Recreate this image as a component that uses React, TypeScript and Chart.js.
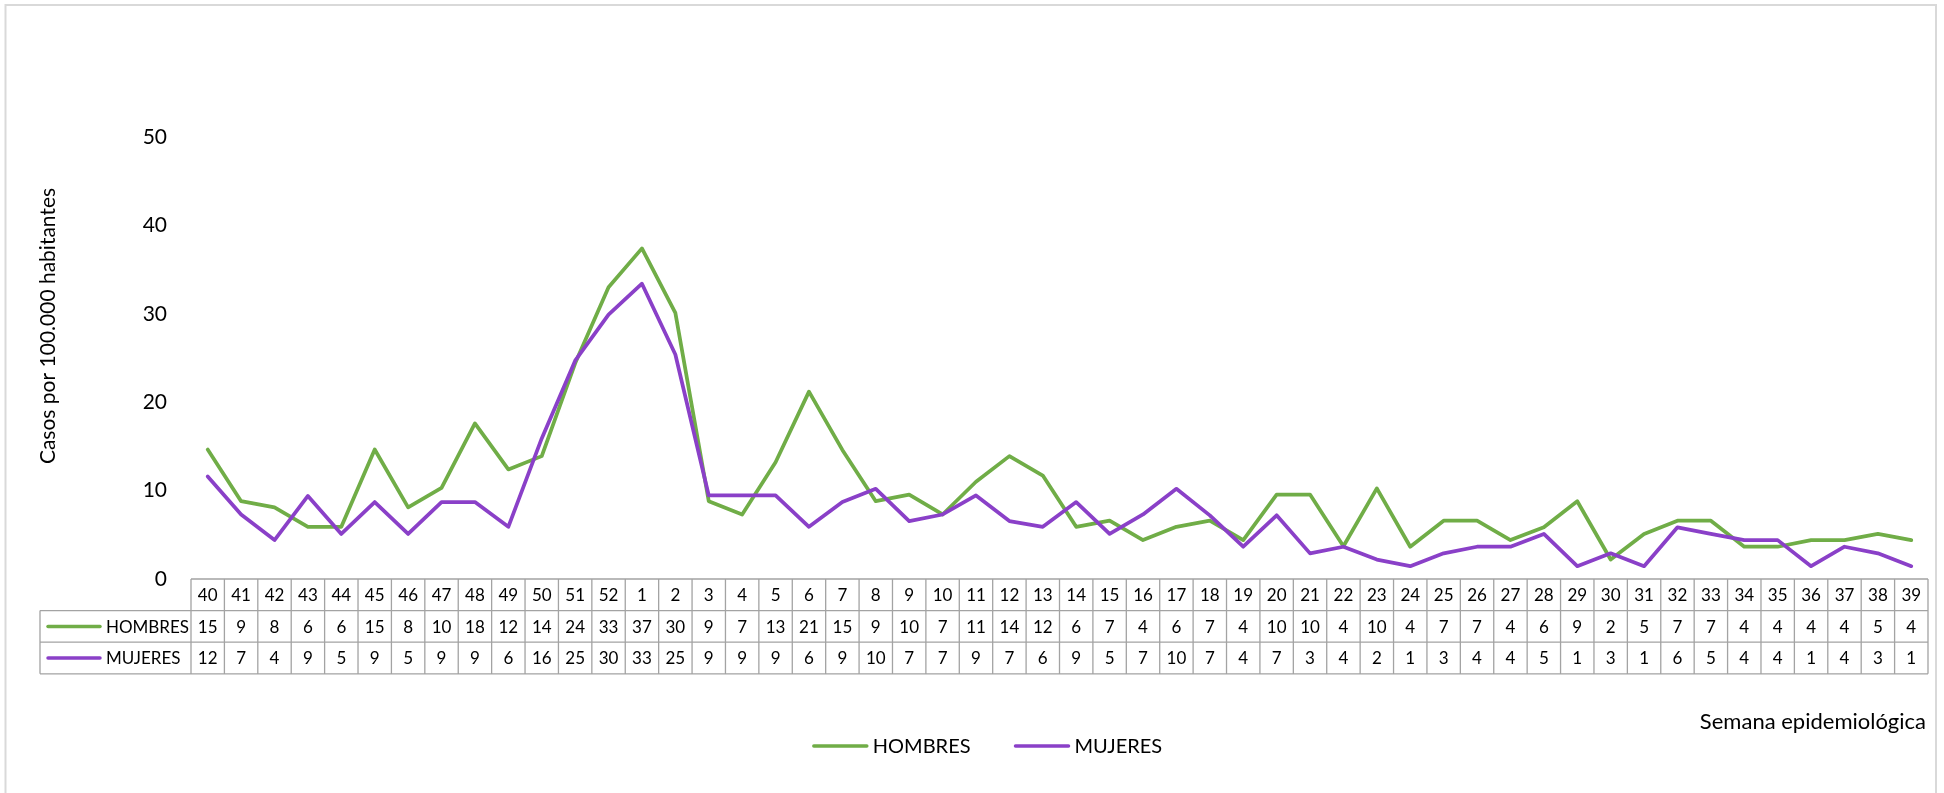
import React, { useEffect, useRef } from "react";
import { Chart, registerables } from "chart.js";

Chart.register(...registerables);

const semanas = [
  "40", "41", "42", "43", "44", "45", "46", "47", "48", "49", "50", "51", "52",
  "1", "2", "3", "4", "5", "6", "7", "8", "9", "10", "11", "12", "13", "14",
  "15", "16", "17", "18", "19", "20", "21", "22", "23", "24", "25", "26", "27",
  "28", "29", "30", "31", "32", "33", "34", "35", "36", "37", "38", "39",
];

const hombres = [
  14.65, 8.8, 8.1, 5.9, 5.9, 14.65, 8.1, 10.3, 17.6, 12.4, 13.9, 24.4, 33.0,
  37.4, 30.1, 8.8, 7.3, 13.2, 21.2, 14.6, 8.8, 9.55, 7.3, 11.0, 13.9, 11.7, 5.9,
  6.6, 4.4, 5.9, 6.6, 4.4, 9.55, 9.55, 3.7, 10.25, 3.65, 6.6, 6.6, 4.4,
  5.85, 8.8, 2.2, 5.1, 6.6, 6.6, 3.65, 3.65, 4.4, 4.4, 5.1, 4.4,
];

const mujeres = [
  11.6, 7.3, 4.4, 9.4, 5.1, 8.7, 5.1, 8.7, 8.7, 5.9, 15.9, 24.7, 29.9,
  33.4, 25.4, 9.45, 9.45, 9.45, 5.9, 8.7, 10.2, 6.55, 7.3, 9.45, 6.55, 5.9, 8.7,
  5.1, 7.3, 10.2, 7.2, 3.65, 7.2, 2.9, 3.65, 2.2, 1.45, 2.9, 3.65, 3.65,
  5.1, 1.45, 2.9, 1.45, 5.85, 5.1, 4.4, 4.4, 1.45, 3.65, 2.9, 1.45,
];

const yMin = 0;
const yMax = 50;
const yStep = 10;

const tituloY = "Casos por 100.000 habitantes";
const tituloX = "Semana epidemiológica";

const GREEN = "#70ad47";
const PURPLE = "#8a40c8";
const FONT = "Lato, 'Open Sans', sans-serif";
const TEXT = "#000000";
const GRID_GRAY = "#a3a3a3";
const LINE_W = 3.75;

const excelPlugin = {
  id: "excelDataTable",
  beforeDraw(chart: any) {
    const ctx = chart.ctx;
    ctx.save();
    ctx.fillStyle = "#ffffff";
    ctx.fillRect(0, 0, chart.width, chart.height);
    ctx.strokeStyle = "#d9d9d9";
    ctx.lineWidth = 2;
    ctx.strokeRect(5.5, 5, 1930.5, chart.height + 40);
    ctx.restore();
  },
  afterDraw(chart: any) {
    const { ctx, chartArea, scales } = chart;
    const xs = scales.x;
    const labels: string[] = chart.data.labels;
    const n = labels.length;
    const colW = xs.getPixelForValue(1) - xs.getPixelForValue(0);
    const left = xs.getPixelForValue(0) - colW / 2;
    const right = xs.getPixelForValue(n - 1) + colW / 2;
    const top = chartArea.bottom;
    const rowH = 31.6;
    const labelLeft = 40;
    const datasets = chart.data.datasets;

    ctx.save();
    // Axis titles
    ctx.fillStyle = TEXT;
    ctx.font = `21px ${FONT}`;
    ctx.textAlign = "center";
    ctx.textBaseline = "middle";
    ctx.save();
    ctx.translate(48, 326);
    ctx.rotate(-Math.PI / 2);
    ctx.fillText(tituloY, 0, 0);
    ctx.restore();

    ctx.font = `22px ${FONT}`;
    ctx.textAlign = "right";
    ctx.fillText(tituloX, 1926, 722);

    // Table grid
    ctx.strokeStyle = GRID_GRAY;
    ctx.lineWidth = 1.3;
    ctx.beginPath();
    ctx.moveTo(left, top);
    ctx.lineTo(right, top);
    for (let r = 1; r <= datasets.length + 1; r++) {
      ctx.moveTo(labelLeft, top + r * rowH);
      ctx.lineTo(right, top + r * rowH);
    }
    for (let i = 0; i <= n; i++) {
      const xx = left + i * colW;
      ctx.moveTo(xx, top);
      ctx.lineTo(xx, top + (datasets.length + 1) * rowH);
    }
    ctx.moveTo(labelLeft, top + rowH);
    ctx.lineTo(labelLeft, top + (datasets.length + 1) * rowH);
    ctx.stroke();

    // Table texts
    ctx.fillStyle = TEXT;
    ctx.font = `17px ${FONT}`;
    ctx.textAlign = "center";
    ctx.textBaseline = "middle";
    for (let i = 0; i < n; i++) {
      const cx = xs.getPixelForValue(i);
      ctx.fillText(labels[i], cx, top + rowH / 2 + 1);
      datasets.forEach((ds: any, d: number) => {
        ctx.fillText(String(Math.round(ds.data[i])), cx, top + (d + 1) * rowH + rowH / 2 + 1);
      });
    }
    datasets.forEach((ds: any, d: number) => {
      const cy = top + (d + 1) * rowH + rowH / 2;
      ctx.strokeStyle = ds.borderColor;
      ctx.lineWidth = 3.5;
      ctx.lineCap = "round";
      ctx.beginPath();
      ctx.moveTo(48, cy);
      ctx.lineTo(100, cy);
      ctx.stroke();
      ctx.fillStyle = TEXT;
      ctx.textAlign = "left";
      ctx.fillText(ds.label, 106, cy + 1);
    });

    // Legend
    ctx.font = `20px ${FONT}`;
    const lineLen = 53;
    const gapText = 6;
    const gapItem = 45;
    const widths = datasets.map((ds: any) => lineLen + gapText + ctx.measureText(ds.label).width);
    const total = widths.reduce((a: number, b: number) => a + b, 0) + gapItem * (datasets.length - 1);
    let lx = 988 - total / 2;
    const ly = 746;
    datasets.forEach((ds: any, d: number) => {
      ctx.strokeStyle = ds.borderColor;
      ctx.lineWidth = 3.5;
      ctx.lineCap = "round";
      ctx.beginPath();
      ctx.moveTo(lx, ly);
      ctx.lineTo(lx + lineLen, ly);
      ctx.stroke();
      ctx.fillStyle = TEXT;
      ctx.textAlign = "left";
      ctx.textBaseline = "middle";
      ctx.fillText(ds.label, lx + lineLen + gapText, ly + 1);
      lx += widths[d] + gapItem;
    });
    ctx.restore();
  },
};

export default function App() {
  const ref = useRef<HTMLCanvasElement>(null);
  useEffect(() => {
    document.body.style.margin = "0";
    const canvas = ref.current!;
    const chart = new Chart(canvas, {
      type: "line",
      data: {
        labels: semanas,
        datasets: [
          {
            label: "HOMBRES",
            data: hombres,
            borderColor: GREEN,
            backgroundColor: GREEN,
            borderWidth: LINE_W,
            pointRadius: 0,
            tension: 0,
            order: 1,
            borderJoinStyle: "round",
            borderCapStyle: "round",
          },
          {
            label: "MUJERES",
            data: mujeres,
            borderColor: PURPLE,
            backgroundColor: PURPLE,
            borderWidth: LINE_W,
            pointRadius: 0,
            tension: 0,
            order: 0,
            borderJoinStyle: "round",
            borderCapStyle: "round",
          },
        ],
      },
      options: {
        responsive: false,
        animation: false,
        events: [],
        layout: { padding: { top: 137, right: 16, bottom: 793 - 579, left: 0 } },
        plugins: {
          legend: { display: false },
          tooltip: { enabled: false },
          title: { display: false },
        },
        scales: {
          x: { display: false, offset: true },
          y: {
            min: yMin,
            max: yMax,
            ticks: {
              stepSize: yStep,
              padding: 24,
              color: TEXT,
              font: { family: FONT, size: 21 },
            },
            grid: { display: false, drawTicks: false },
            border: { display: false },
            afterFit: (s: any) => {
              s.width = 191;
            },
          },
        },
      },
      plugins: [excelPlugin],
    } as any);
    return () => chart.destroy();
  }, []);
  return <canvas ref={ref} width={1944} height={793} style={{ display: "block" }} />;
}
